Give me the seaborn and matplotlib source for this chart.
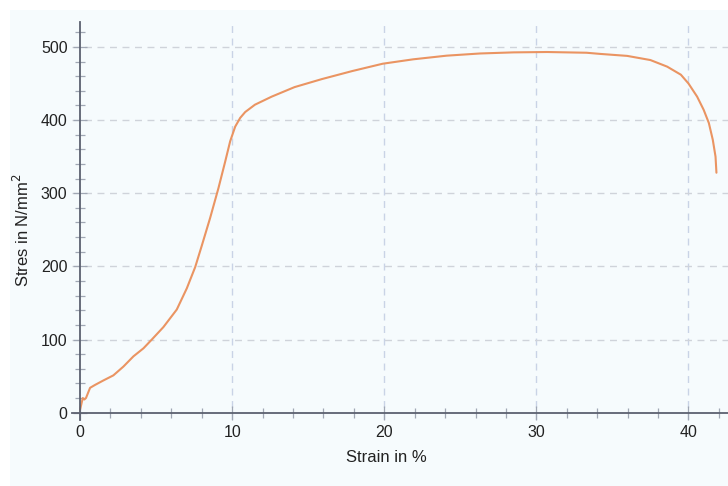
import numpy as np
import pandas as pd
import matplotlib
matplotlib.use("Agg")
import matplotlib.pyplot as plt
from matplotlib.patches import Rectangle
from matplotlib.ticker import MultipleLocator
import seaborn as sns

# values
strain = [0, 0.18, 0.28, 0.39, 0.66, 0.99, 1.53, 2.19, 2.85, 3.51, 4.17, 4.72,
          5.48, 6.36, 7.02, 7.57, 8.0, 8.55, 9.1, 9.54, 9.87, 10.2, 10.53,
          10.86, 11.5, 12.6, 14.1, 15.9, 17.9, 19.9, 21.9, 24.1, 26.3, 28.5,
          30.7, 33.3, 34.2, 35.97, 37.5, 38.6, 39.5, 40.0, 40.57, 41.0, 41.34,
          41.6, 41.78, 41.84]
stress = [4, 20, 18, 20, 34, 38, 44, 51, 63, 77, 88, 100,
          117, 141, 170, 199, 228, 266, 307, 343, 371, 391, 403,
          411, 421, 432, 445, 456, 467, 477, 483, 488, 491, 492.5,
          493, 492, 490.4, 487.7, 482, 473, 462, 450, 432, 414, 396,
          373, 350, 328]

df = pd.DataFrame({"strain": strain, "stress": stress})

sns.set_style("white")
plt.rcParams["font.family"] = ["Liberation Sans", "DejaVu Sans"]

fig = plt.figure(figsize=(7.28, 4.86), dpi=100)
fig.patch.set_facecolor("white")
bg = Rectangle((10 / 728, 0), 1, 1 - 10 / 486, transform=fig.transFigure,
               facecolor="#f6fbfd", edgecolor="none", zorder=-10)
fig.patches.append(bg)

ax = fig.add_axes([0.0995, 0.1358, 0.9005, 0.8189])
ax.set_facecolor("none")

sns.lineplot(data=df, x="strain", y="stress", ax=ax, color="#ea9462", linewidth=1.5,
             sort=False, estimator=None)

ax.set_xlim(-0.5, 42.6)
ax.set_ylim(-10, 534)

ax.spines["left"].set_position(("data", 0))
ax.spines["bottom"].set_position(("data", 0))
ax.spines["top"].set_visible(False)
ax.spines["right"].set_visible(False)
for s in ["left", "bottom"]:
    ax.spines[s].set_color("#5c6170")
    ax.spines[s].set_linewidth(1.3)

ax.xaxis.set_major_locator(MultipleLocator(10))
ax.xaxis.set_minor_locator(MultipleLocator(2))
ax.yaxis.set_major_locator(MultipleLocator(100))
ax.yaxis.set_minor_locator(MultipleLocator(20))
ax.tick_params(which="both", bottom=True, left=True, direction="inout",
               color="#a0a7b4", width=0.9)
ax.tick_params(which="major", length=10, labelsize=11.5, labelcolor="#222222", pad=4)
ax.tick_params(which="minor", length=7)

# dashed grid only at major ticks
for xv in [10, 20, 30, 40]:
    ax.axvline(xv, color="#c9d3e6", linestyle=(0, (5, 4)), linewidth=1, zorder=0)
for yv in [100, 200, 300, 400, 500]:
    ax.axhline(yv, color="#cfd3da", linestyle=(0, (5, 4)), linewidth=1, zorder=0)

ax.set_xlabel("Strain in %", fontsize=12, color="#222222")
ax.set_ylabel("Stres in N/mm$^2$", fontsize=12, color="#222222")
ax.xaxis.set_label_coords((386 - 72.4) / 655.6, -(458 - 420) / 398)
ax.xaxis.label.set_verticalalignment("center")
ax.yaxis.set_label_coords((22 - 72.4) / 655.6, (420 - 230) / 398)
ax.yaxis.label.set_verticalalignment("center")

fig.savefig("out.png", dpi=100, facecolor="white")
